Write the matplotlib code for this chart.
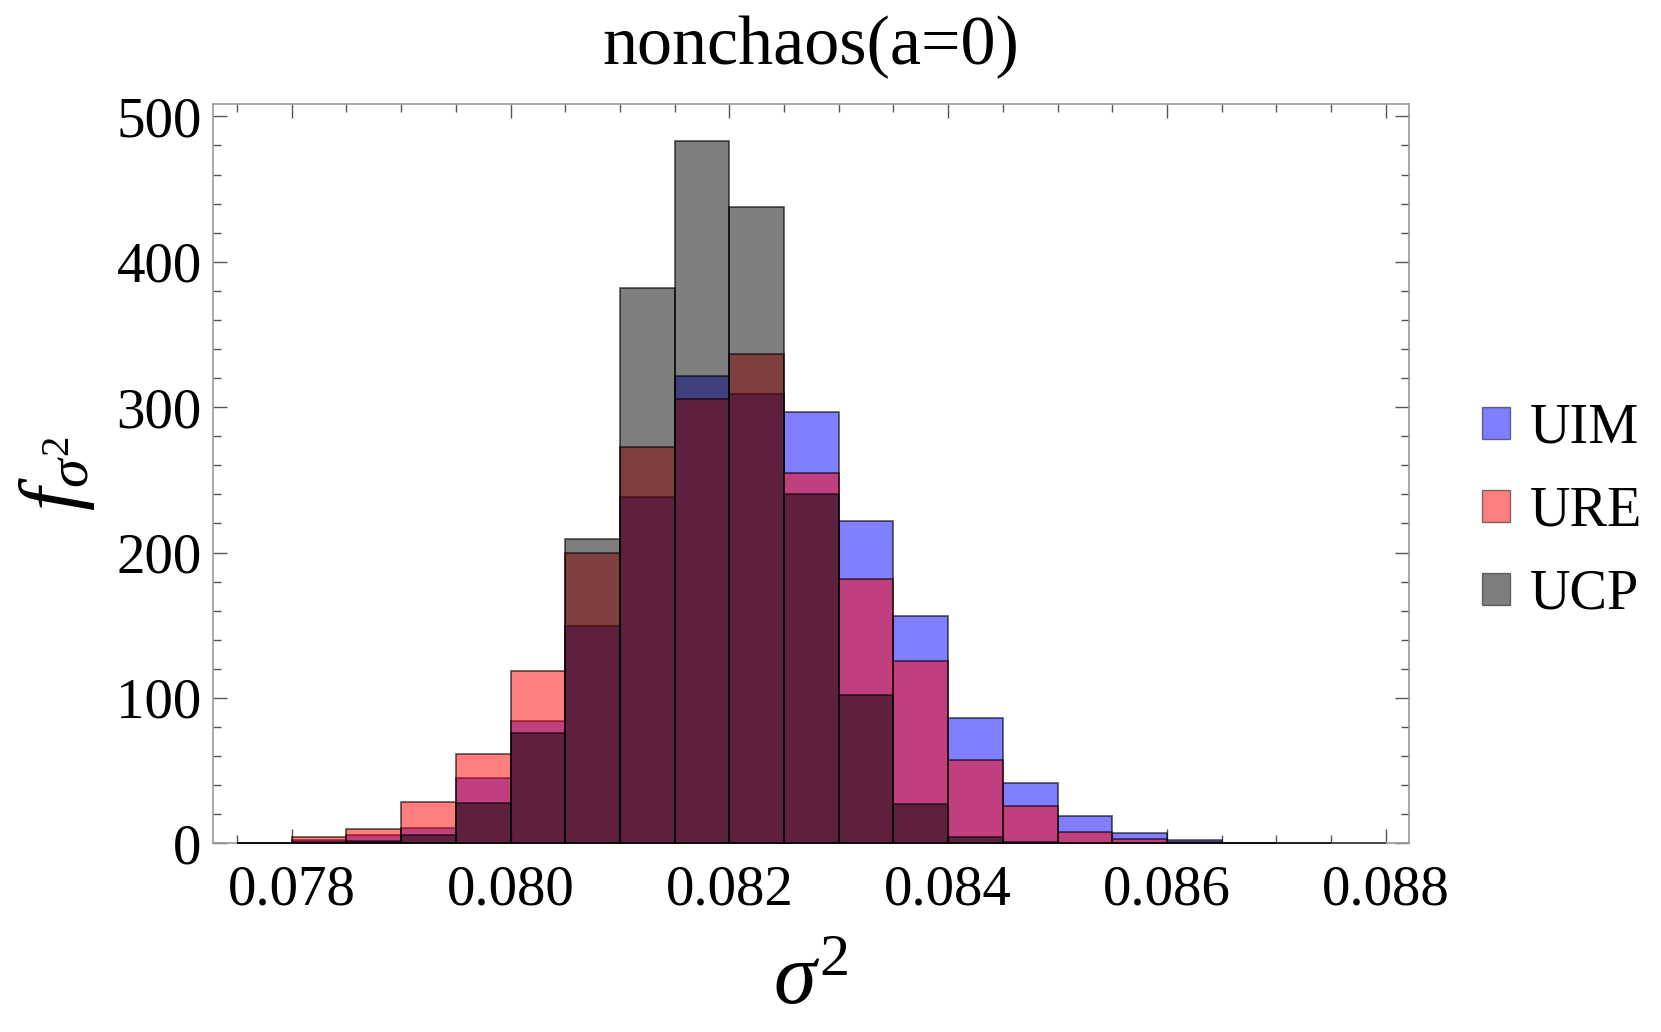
import matplotlib
matplotlib.use("Agg")
import matplotlib.pyplot as plt
from matplotlib.patches import Patch
from matplotlib.ticker import MultipleLocator
import numpy as np

# bin left edges (width 0.0005)
bin_width = 0.0005
bin_lefts = [0.0775, 0.0780, 0.0785, 0.0790, 0.0795, 0.0800, 0.0805, 0.0810,
             0.0815, 0.0820, 0.0825, 0.0830, 0.0835, 0.0840, 0.0845, 0.0850,
             0.0855, 0.0860, 0.0865, 0.0870, 0.0875]

series_names = ["UIM", "URE", "UCP"]
uim = [0.0, 2.0, 5.7, 10.3, 44.9, 84.0, 149.4, 238.3, 321.6, 309.0, 296.6,
       221.5, 156.7, 86.0, 41.3, 18.8, 7.3, 2.3, 0.0, 0.0, 0.0]
ure = [0.0, 4.1, 9.9, 28.4, 61.6, 118.8, 199.6, 272.5, 305.4, 336.5, 255.0,
       181.5, 125.4, 57.2, 25.9, 7.8, 2.7, 1.1, 0.0, 0.0, np.nan]
ucp = [0.0, 1.0, 1.6, 5.7, 27.7, 75.9, 209.0, 381.7, 483.0, 437.4, 240.5,
       102.0, 27.2, 4.6, 1.1, 0.3, 0.0, 0.0, 0.0, np.nan, np.nan]

colors = [(0, 0, 1), (1, 0, 0), (0, 0, 0)]

plt.rcParams['font.family'] = ['Liberation Serif', 'DejaVu Serif']
plt.rcParams['mathtext.fontset'] = 'custom'
plt.rcParams['mathtext.rm'] = 'Liberation Serif'
plt.rcParams['mathtext.it'] = 'Liberation Serif:italic'

fig = plt.figure(figsize=(16.61, 10.32), dpi=100)
ax = fig.add_axes([0.1281, 0.1828, 0.8485 - 0.1281, 0.8992 - 0.1828])

for vals, col in zip([uim, ure, ucp], colors):
    v = np.array(vals, dtype=float)
    x = np.array(bin_lefts)
    m = ~np.isnan(v)
    ax.bar(x[m], v[m], width=bin_width, align='edge',
           facecolor=col + (0.5,), edgecolor=(0, 0, 0, 0.6), linewidth=1.3,
           zorder=2.6, clip_on=False)

ax.set_xlim(0.077278, 0.088216)
ax.set_ylim(0, 508.5)

ax.xaxis.set_major_locator(MultipleLocator(0.002))
ax.xaxis.set_minor_locator(MultipleLocator(0.0005))
ax.yaxis.set_major_locator(MultipleLocator(100))
ax.yaxis.set_minor_locator(MultipleLocator(20))
ax.set_xticks([0.078, 0.080, 0.082, 0.084, 0.086, 0.088])
ax.set_xticklabels(["0.078", "0.080", "0.082", "0.084", "0.086", "0.088"])
ax.set_yticks([0, 100, 200, 300, 400, 500])
ax.set_yticklabels(["0", "100", "200", "300", "400", "500"])

ax.tick_params(which='both', direction='in', top=True, right=True,
               color='#555555', width=1.0)
ax.tick_params(which='major', length=10, labelsize=41)
ax.tick_params(which='minor', length=6)
ax.tick_params(axis='x', which='major', pad=15)
ax.tick_params(axis='y', which='major', pad=8)
for s in ax.spines.values():
    s.set_color('#999999')
    s.set_linewidth(1.2)

ax.set_title("nonchaos(a=0)", fontsize=50.5, pad=29)
ax.set_xlabel(r"$\sigma^2$", fontsize=62, labelpad=20)
ax.set_ylabel(r"$f_{\sigma^2}$", fontsize=60, labelpad=14)

handles = [Patch(facecolor=c + (0.5,), edgecolor=(0, 0, 0, 0.5), linewidth=1.0)
           for c in colors]
fig.legend(handles, series_names, loc='center left',
           bbox_to_anchor=(0.892, 0.504), frameon=False, fontsize=40.5,
           handlelength=0.5, handleheight=0.5, handletextpad=0.36,
           labelspacing=0.55, borderpad=0, borderaxespad=0)

fig.savefig("out.png", dpi=100)
